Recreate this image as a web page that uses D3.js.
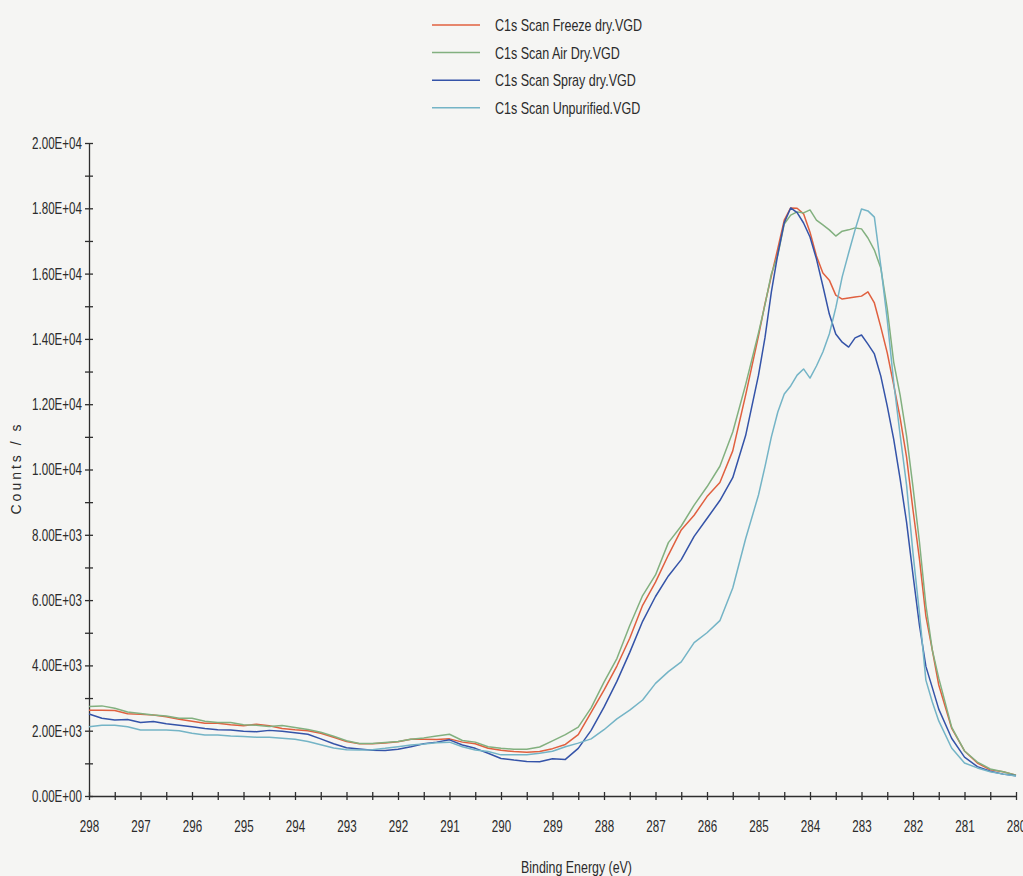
<!DOCTYPE html>
<html>
<head>
<meta charset="utf-8">
<script src="https://cdn.jsdelivr.net/npm/d3@7"></script>
<style>
  body { margin: 0; background: #f5f5f3; }
  svg text { font-family: 'Liberation Sans Narrow', 'Arial Narrow', 'Liberation Sans', sans-serif; fill: #2b2b2b; }
</style>
</head>
<body>
<div id="chart"></div>
<script>
//Binding energies (eV), finer steps around the peaks
var energy = [
  298, 297.75, 297.5, 297.25, 297, 296.75, 296.5, 296.25, 296, 295.75, 295.5, 295.25,
  295, 294.75, 294.5, 294.25, 294, 293.75, 293.5, 293.25, 293, 292.75, 292.5, 292.25,
  292, 291.75, 291.5, 291.25, 291, 290.75, 290.5, 290.25, 290, 289.75, 289.5, 289.25,
  289, 288.75, 288.5, 288.25, 288, 287.75, 287.5, 287.25, 287, 286.75, 286.5, 286.25,
  286, 285.75, 285.5, 285.25,
  285, 284.875, 284.75, 284.625, 284.5, 284.375, 284.25, 284.125, 284, 283.875, 283.75, 283.625,
  283.5, 283.375, 283.25, 283.125, 283, 282.875, 282.75, 282.625, 282.5, 282.375, 282.25, 282.125,
  282, 281.875, 281.75, 281.625, 281.5,
  281.25, 281, 280.75, 280.5, 280.25, 280
];

//Counts / s for each scan
var freezeDry = [
  2630, 2630, 2620, 2520, 2500, 2480, 2430, 2350, 2290, 2230, 2230, 2180,
  2150, 2200, 2150, 2070, 2030, 2000, 1920, 1800, 1670, 1600, 1600, 1620,
  1660, 1740, 1740, 1730, 1750, 1650, 1600, 1460, 1400, 1360, 1340, 1360,
  1450, 1580, 1880, 2560, 3240, 3980, 4830, 5840, 6550, 7380, 8150, 8600,
  9170, 9600, 10570, 12280,
  14090, 15070, 15930, 16770, 17640, 18010, 18000, 17830, 17270, 16540, 16020, 15800,
  15340, 15220, 15250, 15280, 15310, 15440, 15100, 14360, 13570, 12590, 11580, 10380,
  8760, 7260, 5510, 4470, 3400,
  2080, 1380, 1010, 800, 740, 640
];

var airDry = [
  2740, 2760, 2690, 2570, 2530, 2480, 2450, 2380, 2380, 2290, 2250, 2250,
  2180, 2170, 2130, 2160, 2100, 2040, 1950, 1830, 1690, 1610, 1610, 1640,
  1670, 1740, 1780, 1840, 1890, 1700, 1650, 1510, 1460, 1430, 1430, 1500,
  1690, 1880, 2110, 2700, 3490, 4210, 5220, 6140, 6770, 7760, 8270, 8910,
  9470, 10100, 11150, 12600,
  14180, 15040, 15990, 16570, 17520, 17790, 17890, 17860, 17950, 17640, 17490, 17340,
  17150, 17300, 17340, 17400, 17370, 17090, 16720, 16170, 14920, 13290, 12280, 11030,
  9460, 7780, 5850, 4470, 3610,
  2110, 1380, 1040, 830, 740, 640
];

var sprayDry = [
  2510, 2380, 2330, 2340, 2250, 2280, 2210, 2170, 2120, 2070, 2030, 2020,
  1980, 1970, 2010, 1980, 1940, 1890, 1750, 1600, 1480, 1440, 1400, 1390,
  1430, 1510, 1600, 1650, 1720, 1560, 1460, 1310, 1150, 1100, 1060, 1050,
  1140, 1120, 1460, 2010, 2720, 3510, 4400, 5350, 6110, 6740, 7240, 7950,
  8500, 9050, 9750, 11040,
  12890, 14030, 15440, 16600, 17560, 18010, 17870, 17550, 17120, 16450, 15620, 14760,
  14150, 13900, 13750, 14030, 14120, 13840, 13540, 12860, 11940, 10930, 9710, 8390,
  6770, 5230, 3970, 3320, 2660,
  1770, 1190, 900, 760, 670, 620
];

var unpurified = [
  2120, 2170, 2170, 2120, 2020, 2020, 2020, 2000, 1920, 1870, 1870, 1840,
  1820, 1800, 1800, 1770, 1740, 1670, 1570, 1470, 1420, 1410, 1420, 1460,
  1510, 1560, 1590, 1630, 1650, 1510, 1410, 1360, 1260, 1260, 1260, 1310,
  1370, 1510, 1620, 1750, 2030, 2360, 2630, 2940, 3450, 3810, 4110, 4700,
  5000, 5370, 6370, 7880,
  9220, 10080, 11000, 11760, 12310, 12560, 12890, 13080, 12800, 13170, 13600, 14150,
  14950, 15900, 16630, 17340, 17980, 17920, 17730, 16230, 14580, 12680, 11060, 9520,
  7440, 5600, 3550, 2880, 2300,
  1470, 1010, 860, 740, 670, 610
];

var seriesNames = ["C1s Scan Freeze dry.VGD", "C1s Scan Air Dry.VGD", "C1s Scan Spray dry.VGD", "C1s Scan Unpurified.VGD"];
var seriesValues = [freezeDry, airDry, sprayDry, unpurified];
var seriesColors = ["#e0603f", "#82b07f", "#3453a8", "#74b4c6"];

var xTicks = d3.range(298, 279.75, -0.5);
var yTicks = d3.range(0, 20001, 1000);

//Width and height
var w = 1023;
var h = 876;

var svg = d3.select("#chart")
  .append("svg")
  .attr("width", w)
  .attr("height", h);

var x = d3.scaleLinear().domain([298, 280]).range([89, 1016]);
var y = d3.scaleLinear().domain([0, 20000]).range([796, 143]);

//squeeze text horizontally so it looks like the condensed original
function squeeze(sel, k) {
  sel.each(function() {
    var len = this.getComputedTextLength();
    d3.select(this).attr("textLength", len * k).attr("lengthAdjust", "spacingAndGlyphs");
  });
}

function ratio(str, size, target) {
  var t = svg.append("text").attr("font-size", size).text(str);
  var k = target / t.node().getComputedTextLength();
  t.remove();
  return k;
}

function sci(d) {
  if (d === 0) return "0.00E+00";
  var e = Math.floor(Math.log10(d));
  var m = d / Math.pow(10, e);
  return m.toFixed(2) + "E+" + (e < 10 ? "0" + e : e);
}

//x axis
var gx = svg.append("g")
  .attr("transform", "translate(0,796)")
  .call(d3.axisBottom(x)
    .tickValues(xTicks)
    .tickSize(4)
    .tickSizeOuter(0)
    .tickPadding(20)
    .tickFormat(function(d) { return d % 1 === 0 ? d : ""; }));

gx.selectAll(".tick line").attr("y1", -4).attr("y2", 4);
gx.selectAll("text").attr("font-size", 17).attr("fill", "#2b2b2b");

//y axis
var gy = svg.append("g")
  .attr("transform", "translate(89,0)")
  .call(d3.axisLeft(y)
    .tickValues(yTicks)
    .tickSize(4)
    .tickSizeOuter(0)
    .tickPadding(3)
    .tickFormat(function(d) { return d % 2000 === 0 ? sci(d) : ""; }));

gy.selectAll(".tick line").attr("x1", -4).attr("x2", 4);
gy.selectAll("text").attr("font-size", 17).attr("fill", "#2b2b2b");

svg.selectAll(".domain, .tick line").attr("stroke", "#2e2e2e").attr("stroke-width", 1.3);

var kTick = ratio("2.00E+04", 17, 50);
squeeze(gx.selectAll("text").filter(function(d) { return d % 1 === 0; }), kTick);
squeeze(gy.selectAll("text").filter(function(d) { return d % 2000 === 0; }), kTick);

//the four scans
var line = d3.line()
  .x(function(d, i) { return x(energy[i]); })
  .y(function(d) { return y(d); });

svg.selectAll(".scan")
  .data(seriesValues)
  .enter()
  .append("path")
  .attr("class", "scan")
  .attr("d", line)
  .attr("fill", "none")
  .attr("stroke", function(d, i) { return seriesColors[i]; })
  .attr("stroke-width", 1.5)
  .attr("stroke-linejoin", "round");

//axis titles
var xTitle = svg.append("text")
  .attr("x", 521)
  .attr("y", 873)
  .attr("font-size", 16)
  .text("Binding Energy (eV)");
squeeze(xTitle, ratio("Binding Energy (eV)", 16, 111));

svg.append("text")
  .attr("transform", "translate(21,468) rotate(-90)")
  .attr("text-anchor", "middle")
  .attr("font-size", 14)
  .style("font-family", "'Liberation Sans', Arial, sans-serif")
  .style("letter-spacing", "3px")
  .text("Counts / s");

//legend
var legend = svg.selectAll(".legend")
  .data(seriesNames)
  .enter()
  .append("g")
  .attr("class", "legend")
  .attr("transform", function(d, i) { return "translate(0," + (25 + i * 27.6) + ")"; });

legend.append("line")
  .attr("x1", 432)
  .attr("x2", 480)
  .attr("stroke", function(d, i) { return seriesColors[i]; })
  .attr("stroke-width", 1.5);

var legendText = legend.append("text")
  .attr("x", 495)
  .attr("dy", "0.36em")
  .attr("font-size", 17)
  .text(function(d) { return d; });
squeeze(legendText, ratio(seriesNames[0], 17, 147));
</script>
</body>
</html>
